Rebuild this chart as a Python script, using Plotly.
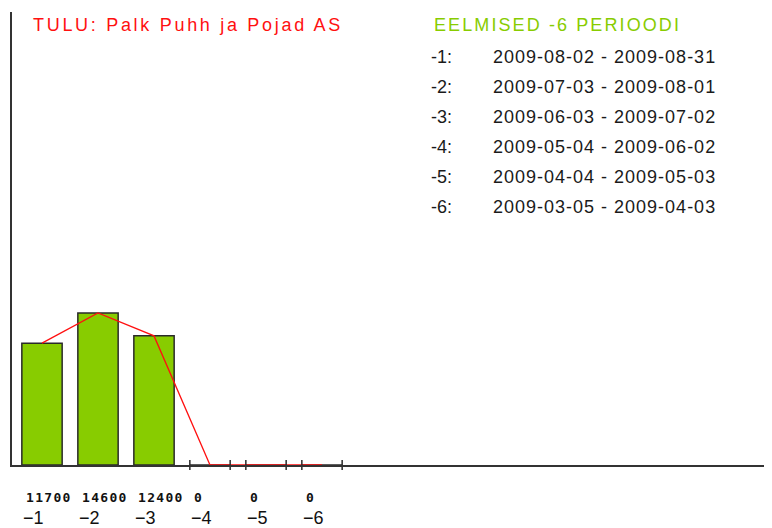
import plotly.graph_objects as go

# ---- data ----
periods = ["-1", "-2", "-3", "-4", "-5", "-6"]
tick_labels = ["\u22121", "\u22122", "\u22123", "\u22124", "\u22125", "\u22126"]
values = [11700, 14600, 12400, 0, 0, 0]
value_labels = ["11700", "14600", "12400", "0", "0", "0"]
date_ranges = [
    "2009-08-02 - 2009-08-31",
    "2009-07-03 - 2009-08-01",
    "2009-06-03 - 2009-07-02",
    "2009-05-04 - 2009-06-02",
    "2009-04-04 - 2009-05-03",
    "2009-03-05 - 2009-04-03",
]
title_text = "TULU: Palk Puhh ja Pojad AS"
legend_title = "EELMISED -6 PERIOODI"

# ---- layout constants ----
OFF = 8                      # page body margin
W, H = 772 - OFF, 528 - OFF
ML, MR, MT, MB = 12 - OFF, 0, 12 - OFF, 63
PW, PH = W - ML - MR, H - MT - MB
BAR_W = 0.72
GREEN = "#88cc00"
RED = "#ff1010"
DARK = "#2a2a2a"

x = list(range(len(values)))


def px(xp):
    return (xp - OFF - ML) / PW


def py(yp):
    return (H - MB - (yp - OFF)) / PH


fig = go.Figure()

fig.add_trace(go.Bar(
    x=x, y=values, width=BAR_W,
    marker=dict(color=GREEN, line=dict(color=DARK, width=1.5)),
    hoverinfo="skip",
))

fig.add_trace(go.Scatter(
    x=x, y=values, mode="lines",
    line=dict(color=RED, width=1.3),
    hoverinfo="skip", cliponaxis=False,
))

# zero-value bars shown as small ticks at their edges
zx, zy = [], []
for i, v in zip(x, values):
    if v == 0:
        zx += [i - BAR_W / 2, i + BAR_W / 2]
        zy += [0, 0]
fig.add_trace(go.Scatter(
    x=zx, y=zy, mode="markers",
    marker=dict(symbol="line-ns-open", size=7, color=DARK,
                line=dict(color=DARK, width=1.5)),
    hoverinfo="skip", cliponaxis=False,
))

ann = []
# value labels and tick labels under the axis
for i, lab, tl in zip(x, value_labels, tick_labels):
    ann.append(dict(
        x=i - BAR_W / 2, xref="x", y=py(498), yref="paper",
        xanchor="left", yanchor="middle", xshift=2, showarrow=False,
        text='<span style="letter-spacing:1.3px">' + lab + "</span>",
        font=dict(family="DejaVu Sans Mono", size=13, color="#111", weight="bold"),
    ))
    ann.append(dict(
        x=i - BAR_W / 2, xref="x", y=py(518), yref="paper",
        xanchor="left", yanchor="middle", xshift=-1, showarrow=False,
        text=tl,
        font=dict(family="Liberation Sans", size=18, color="#111"),
    ))

# title
ann.append(dict(
    x=px(31), xref="paper", y=py(25), yref="paper",
    xanchor="left", yanchor="middle", showarrow=False,
    text='<span style="letter-spacing:2.7px">' + title_text + "</span>",
    font=dict(family="Liberation Sans", size=18, color=RED),
))
# legend block
ann.append(dict(
    x=px(432), xref="paper", y=py(25), yref="paper",
    xanchor="left", yanchor="middle", showarrow=False,
    text='<span style="letter-spacing:2.1px">' + legend_title + "</span>",
    font=dict(family="Liberation Sans", size=18, color=GREEN),
))
for k, (p, d) in enumerate(zip(periods, date_ranges)):
    yy = 57 + 30 * k
    ann.append(dict(
        x=px(429), xref="paper", y=py(yy), yref="paper",
        xanchor="left", yanchor="middle", showarrow=False,
        text=p + ":",
        font=dict(family="Liberation Sans", size=18, color="#1a1a1a"),
    ))
    ann.append(dict(
        x=px(491), xref="paper", y=py(yy), yref="paper",
        xanchor="left", yanchor="middle", showarrow=False,
        text='<span style="letter-spacing:1px">' + d + "</span>",
        font=dict(family="Liberation Sans", size=18, color="#1a1a1a"),
    ))

x0 = -30 / 56
x1 = x0 + PW / 56
fig.update_layout(
    width=W, height=H,
    margin=dict(l=ML, r=MR, t=MT, b=MB, pad=0),
    paper_bgcolor="white", plot_bgcolor="white",
    showlegend=False,
    annotations=ann,
    xaxis=dict(range=[x0, x1], showgrid=False, zeroline=False, showticklabels=False,
               ticks="", showline=True, linecolor="#333", linewidth=2, fixedrange=True),
    yaxis=dict(range=[0, 43500], showgrid=False, zeroline=False, showticklabels=False,
               ticks="", showline=True, linecolor="#333", linewidth=2, fixedrange=True),
)

fig.write_html("out.html")
